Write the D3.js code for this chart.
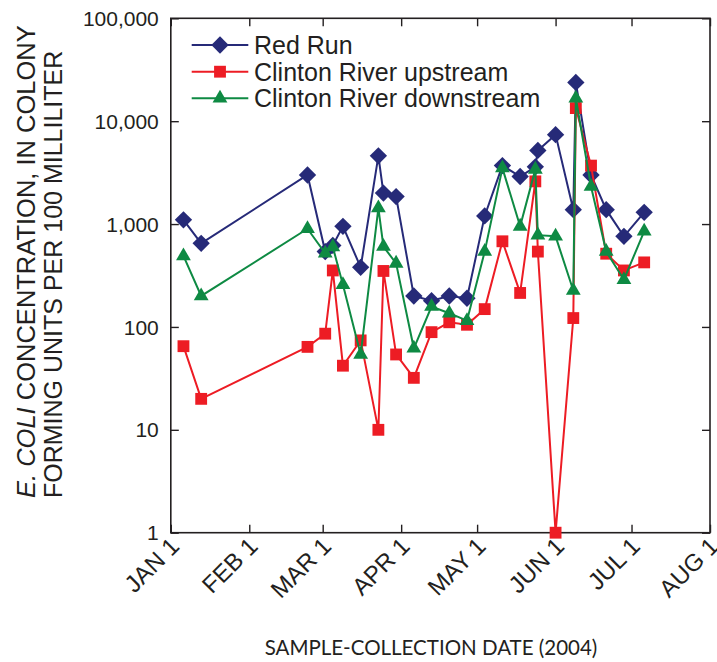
<!DOCTYPE html>
<html>
<head>
<meta charset="utf-8">
<script src="https://cdn.jsdelivr.net/npm/d3@7"></script>
<style>
  html, body { margin: 0; padding: 0; background: #fff; }
  svg { display: block; }
</style>
</head>
<body>
<svg id="chart" width="717" height="662"></svg>
<script>
// ---------- DATA ----------
const sampleDates = ["2004-01-06","2004-01-13","2004-02-24","2004-03-02","2004-03-05","2004-03-09",
  "2004-03-16","2004-03-23","2004-03-25","2004-03-30","2004-04-06","2004-04-13","2004-04-20",
  "2004-04-27","2004-05-04","2004-05-11","2004-05-18","2004-05-24","2004-05-25","2004-06-01",
  "2004-06-08","2004-06-09","2004-06-15","2004-06-21","2004-06-28","2004-07-06"];
const redRun = [1100, 650, 3000, 540, 620, 950, 380, 4600, 2000, 1850, 200, 180, 200, 190,
  1200, 3700, 2900, 3600, 5200, 7400, 1380, 23800, 3000, 1380, 760, 1300];
const clintonUpstream = [65, 20, 64, 86, 354, 42, 74, 10, 350, 54, 32, 89, 111, 105,
  149, 680, 214, 2600, 540, 1, 122, 13400, 3700, 515, 354, 424];
const clintonDownstream = [490, 200, 900, 520, 600, 257, 54, 1430, 605, 415, 62, 158, 136, 115,
  540, 3500, 950, 3400, 780, 760, 226, 16700, 2320, 540, 288, 850];
const seriesNames = ["Red Run", "Clinton River upstream", "Clinton River downstream"];
const monthTickDates = ["2004-01-01","2004-02-01","2004-03-01","2004-04-01","2004-05-01","2004-06-01","2004-07-01","2004-08-01"];
const monthTickLabels = ["JAN 1","FEB 1","MAR 1","APR 1","MAY 1","JUN 1","JUL 1","AUG 1"];
const yTickValues = [1, 10, 100, 1000, 10000, 100000];
const yTickLabels = ["1","10","100","1,000","10,000","100,000"];
const xTitle = "SAMPLE-COLLECTION DATE (2004)";

// ---------- LAYOUT ----------
const svg = d3.select("#chart");
const L = 170.8, R = 710, T = 18.3, B = 532.7;
const ink = "#231f20";
const colors = ["#262a78", "#ed1c24", "#0e8a43"];
const symbols = ["diamond", "square", "triangle"];

const parse = d3.utcParse("%Y-%m-%d");
const x = d3.scaleUtc().domain([parse("2004-01-01"), parse("2004-08-01")]).range([L, R]);
const y = d3.scaleLog().domain([1, 100000]).range([B, T]);

// frame
svg.append("rect").attr("x", L).attr("y", T).attr("width", R - L).attr("height", B - T)
  .attr("fill", "none").attr("stroke", ink).attr("stroke-width", 1.6);

// axes with inward ticks
const tickLen = 8;
const xTicks = monthTickDates.map(parse);
const fontTick = "Liberation Sans, Arial, sans-serif";

const bottomAxis = d3.axisBottom(x).tickValues(xTicks).tickSizeInner(-tickLen).tickSizeOuter(0).tickFormat("");
const topAxis = d3.axisTop(x).tickValues(xTicks).tickSizeInner(-tickLen).tickSizeOuter(0).tickFormat("");
const leftAxis = d3.axisLeft(y).tickValues(yTickValues).tickSizeInner(-tickLen).tickSizeOuter(0).tickFormat("");
const rightAxis = d3.axisRight(y).tickValues(yTickValues).tickSizeInner(-tickLen).tickSizeOuter(0).tickFormat("");

function styleAxis(g) {
  g.select(".domain").remove();
  g.selectAll(".tick line").attr("stroke", ink).attr("stroke-width", 1.4);
}
svg.append("g").attr("transform", `translate(0,${B})`).call(bottomAxis).call(styleAxis);
svg.append("g").attr("transform", `translate(0,${T})`).call(topAxis).call(styleAxis);
svg.append("g").attr("transform", `translate(${L},0)`).call(leftAxis).call(styleAxis);
svg.append("g").attr("transform", `translate(${R},0)`).call(rightAxis).call(styleAxis);

// y tick labels
svg.append("g").selectAll("text").data(yTickValues).join("text")
  .attr("x", L - 12).attr("y", d => y(d)).attr("dy", "0.36em")
  .attr("text-anchor", "end").attr("font-family", fontTick).attr("font-size", 21)
  .attr("fill", ink).text((d, i) => yTickLabels[i]);

// x tick labels rotated
svg.append("g").selectAll("text").data(xTicks).join("text")
  .attr("transform", d => `translate(${x(d) + 10},${B + 15}) rotate(-45)`)
  .attr("text-anchor", "end").attr("font-family", fontTick).attr("font-size", 24)
  .attr("fill", ink).text((d, i) => monthTickLabels[i]);

// x title
svg.append("text").attr("x", 431).attr("y", 655).attr("text-anchor", "middle")
  .attr("font-family", "Lato, 'Open Sans', sans-serif").attr("font-size", 20.5)
  .attr("fill", ink).text(xTitle);

// y title (two lines, rotated)
const yt1 = svg.append("text").attr("transform", "translate(35,498) rotate(-90)")
  .attr("font-family", fontTick).attr("font-size", 25.5).attr("fill", ink);
yt1.append("tspan").attr("font-style", "italic").text("E. COLI");
yt1.append("tspan").text(" CONCENTRATION, IN COLONY");
svg.append("text").attr("transform", "translate(62,498) rotate(-90)")
  .attr("font-family", fontTick).attr("font-size", 25).attr("fill", ink)
  .text("FORMING UNITS PER 100 MILLILITER");

// ---------- SERIES ----------
const allSeries = [redRun, clintonUpstream, clintonDownstream];
const dates = sampleDates.map(parse);

function symbolPath(kind) {
  if (kind === "diamond") return d3.symbol(d3.symbolSquare, 150)();
  if (kind === "square") return d3.symbol(d3.symbolSquare, 140)();
  return d3.symbol(d3.symbolTriangle, 95)();
}

const line = d3.line().x(d => x(d[0])).y(d => y(d[1]));
allSeries.forEach((vals, si) => {
  const pts = dates.map((d, i) => [d, vals[i]]);
  const g = svg.append("g");
  g.append("path").datum(pts).attr("d", line).attr("fill", "none")
    .attr("stroke", colors[si]).attr("stroke-width", 2);
  g.selectAll("path.m").data(pts).join("path").attr("class", "m")
    .attr("d", symbolPath(symbols[si]))
    .attr("transform", d => `translate(${x(d[0])},${y(d[1])})` + (symbols[si] === "diamond" ? " rotate(45)" : ""))
    .attr("fill", colors[si]);
});

// ---------- LEGEND ----------
const legY = [45, 71.7, 98.3];
const lg = svg.append("g");
seriesNames.forEach((name, i) => {
  lg.append("line").attr("x1", 191.7).attr("x2", 248.3).attr("y1", legY[i]).attr("y2", legY[i])
    .attr("stroke", colors[i]).attr("stroke-width", 2);
  lg.append("path").attr("d", symbolPath(symbols[i]))
    .attr("transform", `translate(220,${legY[i]})` + (symbols[i] === "diamond" ? " rotate(45)" : ""))
    .attr("fill", colors[i]);
  lg.append("text").attr("x", 254).attr("y", legY[i]).attr("dy", "0.36em")
    .attr("font-family", fontTick).attr("font-size", 25).attr("fill", ink).text(name);
});
</script>
</body>
</html>
